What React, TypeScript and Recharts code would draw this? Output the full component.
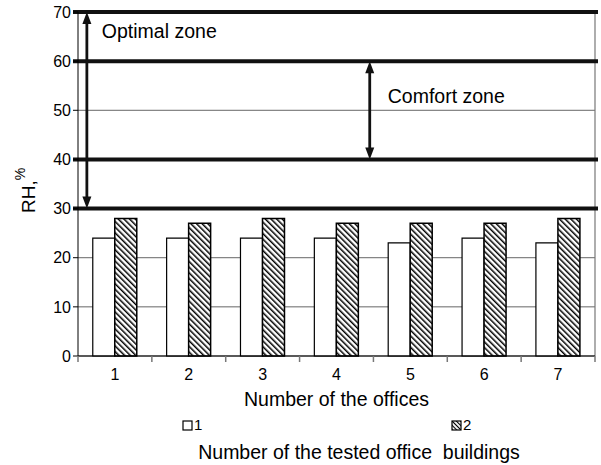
import { BarChart, Bar, XAxis, YAxis, CartesianGrid, ReferenceLine, Legend } from 'recharts';

const offices = ['1', '2', '3', '4', '5', '6', '7'];
const building1 = [24, 24, 24, 24, 23, 24, 23];
const building2 = [28, 27, 28, 27, 27, 27, 28];
const yTicks = [0, 10, 20, 30, 40, 50, 60, 70];
const zoneBounds = [30, 40, 60, 70];

const data = offices.map((o, i) => ({ office: o, b1: building1[i], b2: building2[i] }));

const FONT = '"Liberation Sans", Arial, sans-serif';
const PLOT_W = 601 - 78 - 6;
const BAND = PLOT_W / offices.length;

function OfficeTick(props: any) {
  const { x, y, payload, index } = props;
  return (
    <g>
      <text x={x} y={y + 24} textAnchor="middle" fontSize={16} fill="#000" fontFamily={FONT}>
        {payload.value}
      </text>
      <line x1={x - BAND / 2} x2={x - BAND / 2} y1={y} y2={y + 6} stroke="#777" strokeWidth={1.5} />
      {index === offices.length - 1 && (
        <line x1={x + BAND / 2} x2={x + BAND / 2} y1={y} y2={y + 6} stroke="#777" strokeWidth={1.5} />
      )}
    </g>
  );
}

function YLabel() {
  return (
    <text transform="translate(35,213) rotate(-90)" textAnchor="start" fontSize={19} fontFamily={FONT} fill="#000">
      <tspan>RH,</tspan>
      <tspan dy={-10} fontSize={14}>%</tspan>
    </text>
  );
}

// double-headed arrow drawn at a fraction of a band away from the category centre
function ZoneArrow(text: string, shift: number, dx: number, dy: number) {
  return (p: any) => {
    const x = p.x1 + shift * BAND;
    return (
      <g>
        <line x1={x} y1={p.y1 + 10} x2={x} y2={p.y2 - 10} stroke="#111" strokeWidth={2.8} />
        <path d={`M${x - 4.5},${p.y1 + 12} L${x},${p.y1} L${x + 4.5},${p.y1 + 12} Z`} fill="#111" />
        <path d={`M${x - 4.5},${p.y2 - 12} L${x},${p.y2} L${x + 4.5},${p.y2 - 12} Z`} fill="#111" />
        <text x={x + dx} y={p.y1 + dy} fontSize={19.5} fontFamily={FONT} fill="#000">
          {text}
        </text>
      </g>
    );
  };
}

function ThickLine(p: any) {
  return <line x1={p.x1 - 5} x2={p.x2 + 3} y1={p.y1} y2={p.y2} stroke="#111" strokeWidth={4} />;
}

function LegendBox() {
  return (
    <div style={{ position: 'relative', width: 601, height: 54, fontFamily: FONT, color: '#000' }}>
      <svg width={601} height={54} style={{ position: 'absolute', left: 0, top: 0 }}>
        <defs>
          <pattern id="hatchLegend" patternUnits="userSpaceOnUse" width={3} height={3} patternTransform="rotate(-45)">
            <rect width={3} height={3} fill="#fff" />
            <line x1={0} y1={0} x2={0} y2={3} stroke="#000" strokeWidth={2.2} />
          </pattern>
        </defs>
        <rect x={183} y={10} width={9} height={9} fill="#fff" stroke="#000" strokeWidth={1.2} />
        <text x={194} y={19} fontSize={15} fill="#000">1</text>
        <rect x={452} y={10} width={9} height={9} fill="url(#hatchLegend)" stroke="#000" strokeWidth={1.2} />
        <text x={463} y={19} fontSize={15} fill="#000">2</text>
        <text x={359} y={48} fontSize={19.5} textAnchor="middle" fill="#000" style={{ whiteSpace: 'pre' }}>
          Number of the tested office  buildings
        </text>
      </svg>
    </div>
  );
}

export default function App() {
  return (
    <div style={{ position: 'absolute', left: 0, top: 0, background: '#fff' }}>
      <BarChart
        width={601}
        height={465}
        data={data}
        margin={{ top: 12, right: 6, left: 0, bottom: 0 }}
        barCategoryGap="20%"
        barGap={0}
        style={{ fontFamily: FONT }}
      >
        <defs>
          <pattern id="hatch" patternUnits="userSpaceOnUse" width={4} height={4} patternTransform="rotate(-45)">
            <rect width={4} height={4} fill="#fff" />
            <line x1={0} y1={0} x2={0} y2={4} stroke="#000" strokeWidth={3} />
          </pattern>
        </defs>
        <CartesianGrid horizontal vertical={false} stroke="#666" strokeWidth={1} />
        <XAxis
          dataKey="office"
          height={55}
          axisLine={{ stroke: '#000', strokeWidth: 1.2 }}
          tickLine={false}
          tickSize={0}
          tickMargin={0}
          tick={<OfficeTick />}
          interval={0}
          label={{ value: 'Number of the offices', position: 'insideBottom', offset: 5, fontSize: 19.5, fill: '#000' }}
        />
        <YAxis
          width={78}
          domain={[0, 70]}
          ticks={yTicks}
          interval={0}
          axisLine={{ stroke: '#000', strokeWidth: 1 }}
          tickLine={{ stroke: '#000' }}
          tickSize={5}
          tick={{ fontSize: 16, fill: '#000' }}
          label={<YLabel />}
        />
        <Bar dataKey="b1" fill="#fff" stroke="#000" strokeWidth={1.2} isAnimationActive={false} />
        <Bar dataKey="b2" fill="url(#hatch)" stroke="#000" strokeWidth={1.5} isAnimationActive={false} />
        <ReferenceLine x="7" position="end" stroke="#777" strokeWidth={1.2} />
        {zoneBounds.map((v) => (
          <ReferenceLine key={v} y={v} ifOverflow="visible" shape={ThickLine} />
        ))}
        <ReferenceLine
          segment={[{ x: '1', y: 70 }, { x: '1', y: 30 }]}
          ifOverflow="visible"
          shape={ZoneArrow('Optimal zone', -0.38, 15, 26)}
        />
        <ReferenceLine
          segment={[{ x: '4', y: 60 }, { x: '4', y: 40 }]}
          ifOverflow="visible"
          shape={ZoneArrow('Comfort zone', 0.45, 18, 42)}
        />
        <Legend verticalAlign="bottom" content={<LegendBox />} wrapperStyle={{ left: 0, width: 601, height: 54 }} />
      </BarChart>
    </div>
  );
}
